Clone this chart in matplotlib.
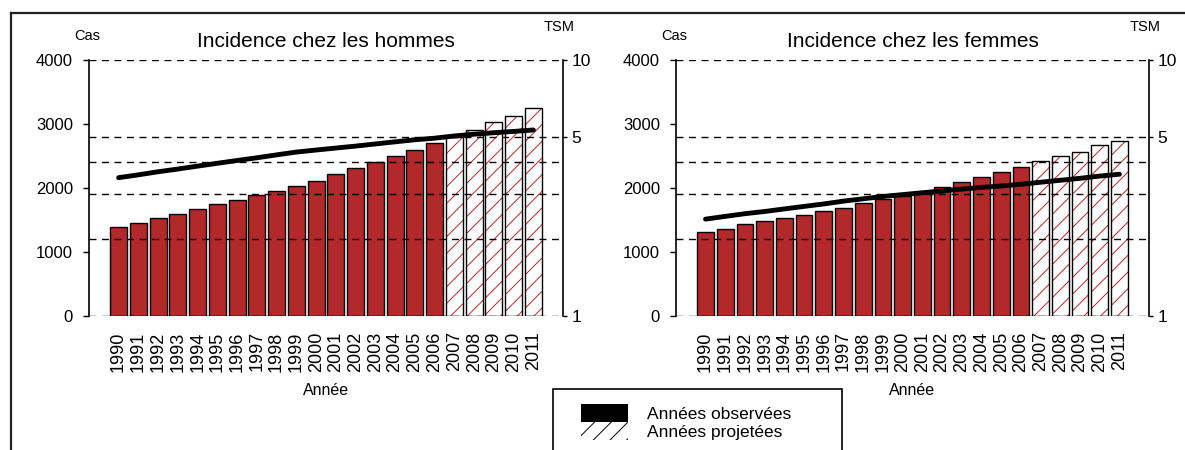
import matplotlib
matplotlib.use("Agg")
import matplotlib.pyplot as plt
from matplotlib.patches import Patch, Rectangle
from matplotlib.lines import Line2D

plt.rcParams["font.family"] = ["Liberation Sans", "DejaVu Sans"]
plt.rcParams["hatch.linewidth"] = 0.7

# ------------------------------------------------------------ data
annees = ["1990", "1991", "1992", "1993", "1994", "1995", "1996", "1997",
          "1998", "1999", "2000", "2001", "2002", "2003", "2004", "2005",
          "2006", "2007", "2008", "2009", "2010", "2011"]
n_observees = 17          # 1990-2006 observed, 2007-2011 projected

cas_hommes = [1390, 1460, 1530, 1600, 1670, 1745, 1815, 1895, 1955, 2030,
              2115, 2215, 2310, 2410, 2505, 2595, 2700, 2790, 2905, 3025,
              3125, 3245]
cas_femmes = [1315, 1360, 1435, 1480, 1530, 1580, 1645, 1695, 1770, 1835,
              1870, 1940, 2020, 2090, 2165, 2245, 2335, 2415, 2495, 2570,
              2665, 2740]
tsm_hommes = [3.47, 3.56, 3.66, 3.75, 3.85, 3.95, 4.05, 4.15, 4.26, 4.37,
              4.45, 4.53, 4.61, 4.70, 4.79, 4.88, 4.95, 5.05, 5.13, 5.20,
              5.26, 5.33]
tsm_femmes = [2.39, 2.45, 2.51, 2.56, 2.62, 2.68, 2.74, 2.81, 2.87, 2.93,
              2.98, 3.03, 3.08, 3.13, 3.18, 3.22, 3.27, 3.33, 3.39, 3.45,
              3.52, 3.58]

cas_ticks = [0, 1000, 2000, 3000, 4000]
tsm_ticks = [1, 5, 10]
tsm_grid = [1, 2, 3, 4, 5, 10]

ROUGE = "#B3282A"
W, H = 1185, 450


def px(x, y):
    """pixel position (from top-left) -> figure fraction"""
    return x / W, 1 - y / H


def panel(x0, x1, titre, cas, tsm):
    y0, y1 = 60, 316
    ax = fig.add_axes([x0 / W, 1 - y1 / H, (x1 - x0) / W, (y1 - y0) / H])
    pos = list(range(len(annees)))
    ax.bar(pos[:n_observees], cas[:n_observees], width=0.85, color=ROUGE,
           edgecolor="black", lw=1, zorder=2)
    ax.bar(pos[n_observees:], cas[n_observees:], width=0.85, color="white",
           edgecolor=ROUGE, hatch="//", lw=0, zorder=2)
    ax.bar(pos[n_observees:], cas[n_observees:], width=0.85, fill=False,
           edgecolor="black", lw=1, zorder=3)
    ax.set_xlim(-1.5, 22.5)
    ax.set_ylim(0, 4000)
    ax.set_yticks(cas_ticks)
    ax.tick_params(axis="y", direction="out", length=4.5, width=1,
                   labelsize=12, pad=7)
    ax.set_xticks(pos, annees, rotation=90, fontsize=13)
    ax.tick_params(axis="x", length=0, pad=11)
    for s in ("top", "bottom", "right"):
        ax.spines[s].set_visible(False)
    ax.spines["left"].set_linewidth(1.2)
    ax.set_xlabel("Année", fontsize=11.5, labelpad=8)

    ax2 = ax.twinx()
    ax2.set_yscale("log")
    ax2.set_ylim(1, 10)
    for v in tsm_grid:
        ax2.axhline(v, color="black", lw=1, ls=(0, (5, 4)), zorder=1)
    ax2.plot(pos, tsm, color="black", lw=3.5, solid_capstyle="round", zorder=4)
    ax2.set_yticks(tsm_ticks, [str(t) for t in tsm_ticks])
    ax2.yaxis.set_minor_locator(matplotlib.ticker.NullLocator())
    ax2.tick_params(axis="y", direction="out", length=3, width=1,
                    labelsize=12.5, pad=3)
    for s in ("top", "bottom", "left"):
        ax2.spines[s].set_visible(False)
    ax2.spines["right"].set_linewidth(1.2)

    xc = (x0 + x1) / 2
    fig.text(*px(xc, 41.5), titre, fontsize=15, ha="center", va="center")
    fig.text(*px(x0 - 2, 36), "Cas", fontsize=10.5, ha="center", va="center")
    fig.text(*px(x1 - 4, 27), "TSM", fontsize=10.5, ha="center", va="center")


fig = plt.figure(figsize=(W / 100, H / 100), dpi=100)

panel(89, 563, "Incidence chez les hommes", cas_hommes, tsm_hommes)
panel(676, 1149, "Incidence chez les femmes", cas_femmes, tsm_femmes)

# outer frame (top and left edges visible in the source)
fig.add_artist(Line2D([11 / W, 1], [1 - 13 / H] * 2, color="#222222", lw=1.6))
fig.add_artist(Line2D([11 / W] * 2, [0, 1 - 13 / H], color="#222222", lw=1.6))

# legend
bx, by = px(553, 389)
fig.add_artist(Rectangle((bx, by - 70 / H), (842 - 553) / W, 70 / H,
                         transform=fig.transFigure, facecolor="white",
                         edgecolor="black", lw=1.2))
handles = [Patch(facecolor="black", edgecolor="black", lw=0),
           Patch(facecolor="white", edgecolor="black", hatch="//", lw=0)]
fig.legend(handles, ["Années observées", "Années projetées"],
           loc="upper left", bbox_to_anchor=px(569, 392), frameon=False,
           fontsize=12.5, handlelength=2.7, handleheight=1.2,
           labelspacing=0.0, handletextpad=1.1, borderpad=0.2)

fig.savefig("out.png", dpi=100)
